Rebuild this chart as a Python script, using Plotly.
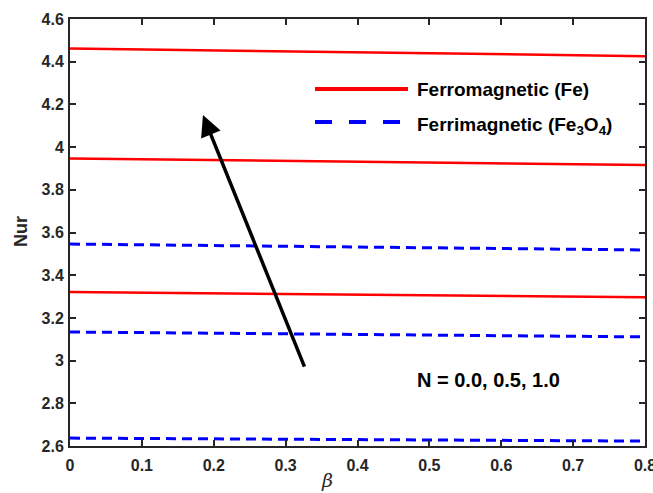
import plotly.graph_objects as go

beta = [0.0, 0.8]
fe_N00 = [3.321, 3.297]
fe_N05 = [3.947, 3.916]
fe_N10 = [4.462, 4.426]
fe3o4_N00 = [2.637, 2.623]
fe3o4_N05 = [3.134, 3.111]
fe3o4_N10 = [3.546, 3.518]

xticks = [0, 0.1, 0.2, 0.3, 0.4, 0.5, 0.6, 0.7, 0.8]
yticks = [2.6, 2.8, 3.0, 3.2, 3.4, 3.6, 3.8, 4.0, 4.2, 4.4, 4.6]
ytick_text = ["2.6", "2.8", "3", "3.2", "3.4", "3.6", "3.8", "4", "4.2", "4.4", "4.6"]
xtick_text = ["0", "0.1", "0.2", "0.3", "0.4", "0.5", "0.6", "0.7", "0.8"]

fig = go.Figure()
for ys in [fe_N00, fe_N05, fe_N10]:
    fig.add_trace(go.Scatter(x=beta, y=ys, mode="lines",
                             line=dict(color="#ff0000", width=2.5), showlegend=False))
for ys in [fe3o4_N00, fe3o4_N05, fe3o4_N10]:
    fig.add_trace(go.Scatter(x=beta, y=ys, mode="lines",
                             line=dict(color="#0000ff", width=3, dash="10px,6px"), showlegend=False))

font = "Liberation Sans, Arial, sans-serif"
axcol = "#262626"
axis_common = dict(showline=True, linecolor=axcol, linewidth=2, mirror="ticks",
                   ticks="inside", ticklen=6, tickwidth=2, tickcolor=axcol,
                   showgrid=False, zeroline=False, ticklabeloverflow="allow",
                   automargin=False,
                   tickfont=dict(family=font, size=16, color=axcol))
fig.update_xaxes(range=[0, 0.8], tickvals=xticks, ticktext=["<b>%s</b>" % t for t in xtick_text],
                 ticklabelstandoff=4, **axis_common)
fig.update_yaxes(range=[2.6, 4.6], tickvals=yticks, ticktext=["<b>%s</b>" % t for t in ytick_text],
                 ticklabelstandoff=1, **axis_common)

# Axis titles
fig.add_annotation(xref="paper", yref="paper", x=(327 - 70) / 575, y=-(480 - 446) / 427,
                   xanchor="center", yanchor="middle", showarrow=False,
                   text="<i>β</i>", font=dict(family="DejaVu Serif, serif", size=19, color=axcol))
fig.add_annotation(xref="paper", yref="paper", x=-(70 - 21) / 575, y=(446 - 232) / 427,
                   xanchor="center", yanchor="middle", showarrow=False, textangle=-90,
                   text="<b>Nur</b>", font=dict(family=font, size=18, color=axcol))

# Arrow
fig.add_annotation(x=0.185, y=4.15, ax=0.327, ay=2.965, xref="x", yref="y",
                   axref="x", ayref="y", showarrow=True, arrowhead=2, arrowsize=1.2,
                   arrowwidth=3.5, arrowcolor="black", text="")
fig.add_annotation(x=(488 - 70) / 575 * 0.8, y=2.909, xref="x", yref="y", showarrow=False,
                   text="<b>N = 0.0, 0.5, 1.0</b>", font=dict(family=font, size=20, color="black"))

# Manual legend
fig.add_shape(type="line", xref="paper", yref="paper",
              x0=(315 - 70) / 575, x1=(408 - 70) / 575,
              y0=(446 - 89) / 427, y1=(446 - 89) / 427,
              line=dict(color="#ff0000", width=4))
fig.add_shape(type="line", xref="paper", yref="paper",
              x0=(315 - 70) / 575, x1=(408 - 70) / 575,
              y0=(446 - 122) / 427, y1=(446 - 122) / 427,
              line=dict(color="#0000ff", width=4, dash="17px,17px"))
fig.add_annotation(xref="paper", yref="paper", x=(415 - 70) / 575, y=(446 - 90) / 427,
                   xanchor="left", yanchor="middle", showarrow=False,
                   text="<b>Ferromagnetic (Fe)</b>", font=dict(family=font, size=19, color="black"))
fig.add_annotation(xref="paper", yref="paper", x=(415 - 70) / 575, y=(446 - 126) / 427,
                   xanchor="left", yanchor="middle", showarrow=False,
                   text="<b>Ferrimagnetic (Fe<sub>3</sub>O<sub>4</sub>)</b>",
                   font=dict(family=font, size=19, color="black"))

fig.update_layout(width=653, height=493, margin=dict(l=70, r=8, t=19, b=47),
                  plot_bgcolor="white", paper_bgcolor="white", showlegend=False)
fig.write_html("out.html")
